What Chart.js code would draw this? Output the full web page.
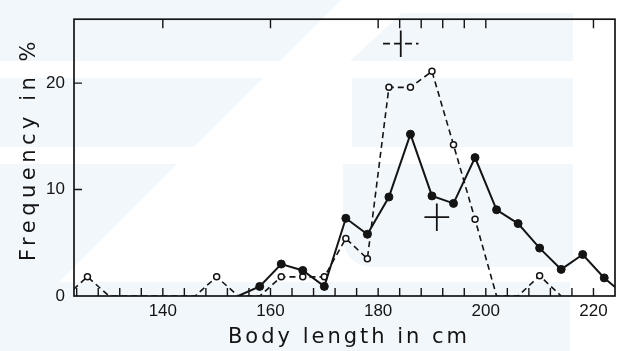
<!DOCTYPE html>
<html lang="en">
<head>
    <meta charset="UTF-8">
    <title>Body length distribution</title>
    <script src="https://cdn.jsdelivr.net/npm/chart.js"></script>
    <style>
        body { margin: 0; background: #fff; }
        canvas { display: block; }
    </style>
</head>
<body>
    <canvas id="lengthChart" width="617" height="351"></canvas>

    <script>
        // body length classes (cm, class centres) and frequencies (%)
        const filledLengths = [154, 158, 162, 166, 170, 174, 178, 182, 186, 190, 194, 198, 202, 206, 210, 214, 218, 222, 226];
        const filledValues  = [0, 0.9, 3.0, 2.4, 0.9, 7.3, 5.8, 9.3, 15.2, 9.4, 8.7, 13.0, 8.1, 6.8, 4.5, 2.5, 3.9, 1.7, 0];

        const openLengths = [122, 126, 130, 146, 150, 154, 158, 162, 166, 170, 174, 178, 182, 186, 190, 194, 198, 202, 206, 210, 214];
        const openValues  = [0, 1.8, 0, 0, 1.8, 0, 0, 1.8, 1.8, 1.8, 5.4, 3.5, 19.6, 19.6, 21.1, 14.2, 7.2, 0, 0, 1.9, 0];

        // mean and spread crosses: [length, frequency]
        const openMean = [184.2, 23.7];
        const openSpread = [3.3, 1.25];
        const filledMean = [190.9, 7.4];
        const filledSpread = [2.3, 1.3];

        const xLabels = [140, 160, 180, 200, 220];
        const yLabels = [0, 10, 20];
        const topTicks = [140, 160, 180, 184, 188, 192, 196, 200, 220];

        const xTitle = "Body length in cm";
        const yTitle = "Frequency in %";

        const ink = '#141414';

        const toPoints = (xs, ys) => xs.map((x, i) => ({ x: x, y: ys[i] }));

        function crossLines(mean, spread, dashed) {
            const base = {
                borderColor: ink,
                borderWidth: 1.8,
                pointRadius: 0,
                order: 0
            };
            return [
                Object.assign({}, base, {
                    data: [{ x: mean[0] - spread[0], y: mean[1] }, { x: mean[0] + spread[0], y: mean[1] }],
                    borderDash: dashed ? [7, 4] : []
                }),
                Object.assign({}, base, {
                    data: [{ x: mean[0], y: mean[1] - spread[1] }, { x: mean[0], y: mean[1] + spread[1] }]
                })
            ];
        }

        // faint background print behind the plot
        const backdrop = {
            id: 'backdrop',
            beforeDraw(chart) {
                const c = chart.ctx;
                c.save();
                c.fillStyle = '#ffffff';
                c.fillRect(0, 0, chart.width, chart.height);
                c.fillStyle = '#f2f7fc';
                c.beginPath();
                c.moveTo(0, 0); c.lineTo(341, 0); c.lineTo(0, 341); c.closePath();
                c.fill();
                c.beginPath();
                c.moveTo(402, 13); c.lineTo(573, 13); c.lineTo(573, 61); c.lineTo(350, 61); c.closePath();
                c.fill();
                c.fillRect(352, 78, 221, 69);
                c.beginPath();
                c.roundRect(343, 164, 230, 103, [0, 0, 0, 28]);
                c.fill();
                c.fillRect(0, 282, 570, 69);
                c.fillStyle = '#ffffff';
                c.fillRect(0, 61, 573, 17);
                c.fillRect(0, 147, 573, 17);
                c.restore();
            }
        };

        // axis frame with inward ticks, and the axis titles
        const frame = {
            id: 'frame',
            afterDraw(chart) {
                const c = chart.ctx;
                const a = chart.chartArea;
                const x = chart.scales.x;
                const y = chart.scales.y;
                c.save();
                c.strokeStyle = ink;
                c.lineWidth = 1.7;
                c.strokeRect(a.left, a.top, a.right - a.left, a.bottom - a.top);
                c.lineWidth = 1.4;
                c.beginPath();
                for (let v = 124; v <= 220; v += 4) {
                    const px = x.getPixelForValue(v);
                    c.moveTo(px, a.bottom); c.lineTo(px, a.bottom - 8);
                }
                topTicks.forEach(v => {
                    const px = x.getPixelForValue(v);
                    c.moveTo(px, a.top); c.lineTo(px, a.top + 9);
                });
                yLabels.slice(1).forEach(v => {
                    const py = y.getPixelForValue(v);
                    c.moveTo(a.left, py); c.lineTo(a.left + 8, py);
                });
                c.stroke();

                c.fillStyle = ink;
                c.font = '21px "DejaVu Sans"';
                c.letterSpacing = '3px';
                c.textAlign = 'center';
                c.textBaseline = 'alphabetic';
                c.fillText(xTitle, 349, 343);
                c.translate(35, 149);
                c.rotate(-Math.PI / 2);
                c.letterSpacing = '4.5px';
                c.fillText(yTitle, 0, 0);
                c.restore();
            }
        };

        new Chart(document.getElementById('lengthChart'), {
            type: 'line',
            data: {
                datasets: [
                    {
                        data: toPoints(filledLengths, filledValues),
                        borderColor: ink,
                        borderWidth: 2,
                        pointRadius: ctx => (ctx.raw && ctx.raw.y > 0 ? 4 : 0),
                        pointBackgroundColor: ink,
                        pointBorderColor: ink,
                        pointBorderWidth: 1,
                        order: 1
                    },
                    {
                        data: toPoints(openLengths, openValues),
                        borderColor: ink,
                        borderWidth: 1.6,
                        borderDash: [6, 4],
                        pointRadius: ctx => (ctx.raw && ctx.raw.y > 0 ? 3 : 0),
                        pointBackgroundColor: '#ffffff',
                        pointBorderColor: ink,
                        pointBorderWidth: 1.5,
                        order: 2
                    },
                    ...crossLines(openMean, openSpread, true),
                    ...crossLines(filledMean, filledSpread, false)
                ]
            },
            options: {
                responsive: false,
                animation: false,
                layout: { padding: { top: 14, right: 2, left: 0, bottom: 0 } },
                plugins: {
                    legend: { display: false },
                    tooltip: { enabled: false }
                },
                scales: {
                    x: {
                        type: 'linear',
                        min: 123.5,
                        max: 224,
                        grid: { display: false, drawTicks: false },
                        border: { display: false },
                        afterBuildTicks: axis => { axis.ticks = xLabels.map(v => ({ value: v })); },
                        afterFit: axis => { axis.height = 55; },
                        ticks: {
                            padding: 5,
                            color: ink,
                            maxRotation: 0,
                            font: { family: '"Liberation Sans", Arial, sans-serif', size: 17 }
                        }
                    },
                    y: {
                        min: 0,
                        max: 26,
                        grid: { display: false, drawTicks: false },
                        border: { display: false },
                        afterBuildTicks: axis => { axis.ticks = yLabels.map(v => ({ value: v })); },
                        afterFit: axis => { axis.width = 74; },
                        ticks: {
                            padding: 9,
                            color: ink,
                            font: { family: '"Liberation Sans", Arial, sans-serif', size: 17 }
                        }
                    }
                }
            },
            plugins: [backdrop, frame]
        });
    </script>
</body>
</html>
